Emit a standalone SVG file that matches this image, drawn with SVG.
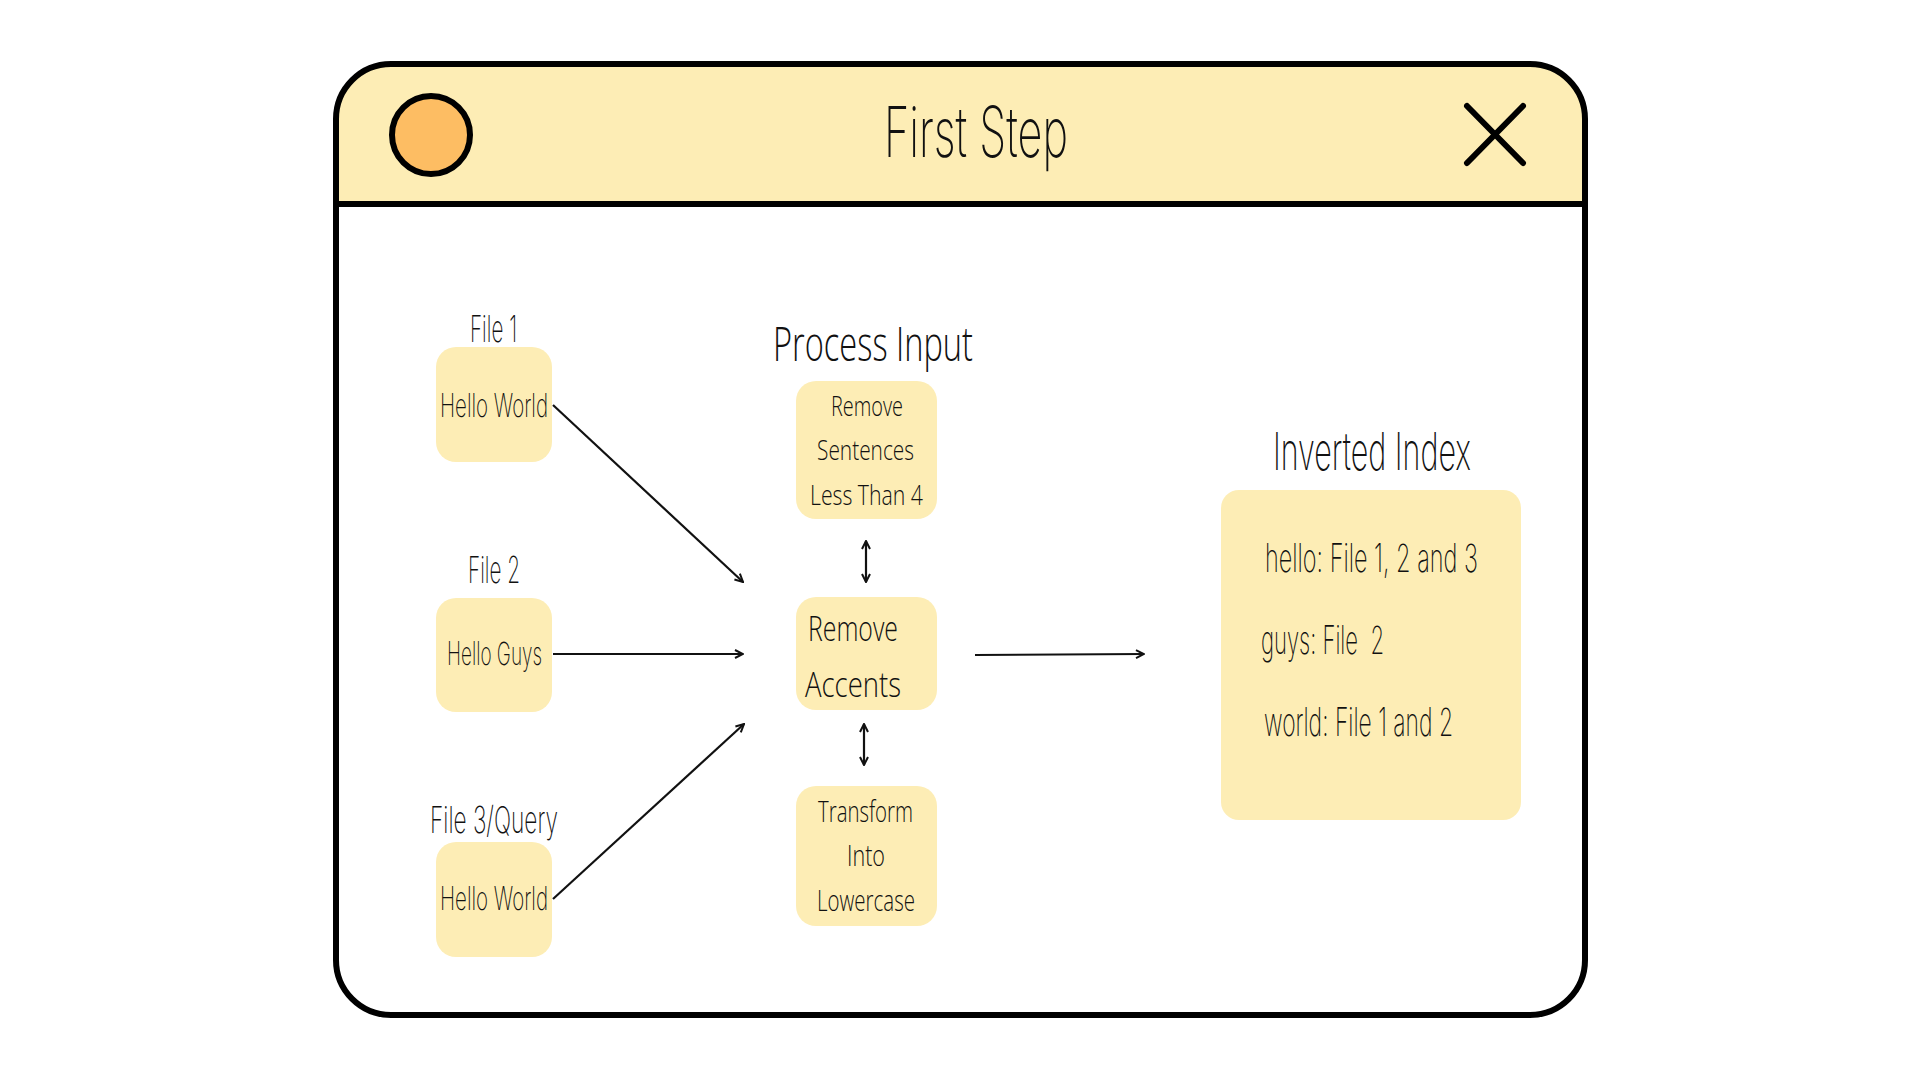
<svg xmlns="http://www.w3.org/2000/svg" width="1920" height="1080" viewBox="0 0 1920 1080">
<defs>
<style>
.t{font-family:Inter,"Liberation Sans",sans-serif;font-weight:250;fill:#111;}
.r{font-family:"Open Sans",Inter,"Liberation Sans",sans-serif;font-weight:300;fill:#111;}
.box{fill:#FDEDB5;}
.ln{stroke:#111;stroke-width:2.2;fill:none;}
</style>
<marker id="ah" viewBox="0 0 10 10" refX="9" refY="5" markerWidth="10" markerHeight="10" markerUnits="userSpaceOnUse" orient="auto-start-reverse">
<path d="M1,1 L9,5 L1,9" fill="none" stroke="#111" stroke-width="2"/>
</marker>
</defs>
<rect x="0" y="0" width="1920" height="1080" fill="#fff"/>
<g id="window">
<rect x="336" y="64" width="1249" height="951" rx="55" fill="#fff"/>
<path d="M336,204 L336,119 A55,55 0 0 1 391,64 L1530,64 A55,55 0 0 1 1585,119 L1585,204 Z" fill="#FDEDB5"/>
<line x1="336" y1="204" x2="1585" y2="204" stroke="#000" stroke-width="6"/>
<rect x="336" y="64" width="1249" height="951" rx="55" fill="none" stroke="#000" stroke-width="6"/>
<circle cx="431" cy="135" r="39" fill="#FDBD63" stroke="#000" stroke-width="6"/>
<text class="t" x="884" y="157" font-size="70" textLength="184" lengthAdjust="spacingAndGlyphs">First Step</text>
<path d="M1467,106 L1523,163 M1523,106 L1467,163" stroke="#000" stroke-width="6" stroke-linecap="round"/>
</g>
<g id="file1">
<text class="t" x="470" y="342" font-size="37" textLength="47" lengthAdjust="spacingAndGlyphs">File 1</text>
<rect class="box" x="436" y="347" width="116" height="115" rx="20"/>
<text class="t" x="440" y="417" font-size="32" textLength="108" lengthAdjust="spacingAndGlyphs">Hello World</text>
</g>
<g id="file2">
<text class="t" x="468" y="583" font-size="37" textLength="52" lengthAdjust="spacingAndGlyphs">File 2</text>
<rect class="box" x="436" y="598" width="116" height="114" rx="20"/>
<text class="t" x="447" y="665" font-size="32" textLength="95" lengthAdjust="spacingAndGlyphs">Hello Guys</text>
</g>
<g id="file3">
<text class="t" x="430" y="833" font-size="37" textLength="128" lengthAdjust="spacingAndGlyphs">File 3/Query</text>
<rect class="box" x="436" y="842" width="116" height="115" rx="20"/>
<text class="t" x="440" y="910" font-size="32" textLength="108" lengthAdjust="spacingAndGlyphs">Hello World</text>
</g>
<g id="process-title">
<text class="r" x="773" y="361" font-size="48" textLength="200" lengthAdjust="spacingAndGlyphs">Process Input</text>
</g>
<g id="remove-sentences">
<rect class="box" x="796" y="381" width="141" height="138" rx="20"/>
<text class="r" x="831" y="416" font-size="27" textLength="72" lengthAdjust="spacingAndGlyphs">Remove</text>
<text class="r" x="817" y="460" font-size="27" textLength="97" lengthAdjust="spacingAndGlyphs">Sentences</text>
<text class="r" x="810" y="505" font-size="27" textLength="113" lengthAdjust="spacingAndGlyphs">Less Than 4</text>
</g>
<g id="remove-accents">
<rect class="box" x="796" y="597" width="141" height="113" rx="20"/>
<text class="r" x="808" y="641" font-size="35" textLength="90" lengthAdjust="spacingAndGlyphs">Remove</text>
<text class="r" x="805" y="697" font-size="35" textLength="96" lengthAdjust="spacingAndGlyphs">Accents</text>
</g>
<g id="lowercase">
<rect class="box" x="796" y="786" width="141" height="140" rx="20"/>
<text class="r" x="818" y="822" font-size="29" textLength="95" lengthAdjust="spacingAndGlyphs">Transform</text>
<text class="r" x="847" y="866" font-size="29" textLength="38" lengthAdjust="spacingAndGlyphs">Into</text>
<text class="r" x="817" y="911" font-size="29" textLength="98" lengthAdjust="spacingAndGlyphs">Lowercase</text>
</g>
<g id="inverted-index">
<text class="t" x="1273" y="470" font-size="52" textLength="198" lengthAdjust="spacingAndGlyphs">Inverted Index</text>
<rect class="box" x="1221" y="490" width="300" height="330" rx="18"/>
<text class="t" x="1265" y="572" font-size="39" textLength="213" lengthAdjust="spacingAndGlyphs">hello: File 1, 2 and 3</text>
<text class="t" x="1261" y="654" font-size="39" textLength="123" lengthAdjust="spacingAndGlyphs" style="white-space:pre" xml:space="preserve">guys: File  2</text>
<text class="t" x="1264" y="736" font-size="39" textLength="189" lengthAdjust="spacingAndGlyphs">world: File 1 and 2</text>
</g>
<g id="connectors">
<line class="ln" x1="553" y1="405" x2="743" y2="582" marker-end="url(#ah)"/>
<line class="ln" x1="553" y1="654" x2="743" y2="654" marker-end="url(#ah)"/>
<line class="ln" x1="553" y1="899" x2="744" y2="724" marker-end="url(#ah)"/>
<line class="ln" x1="975" y1="655" x2="1144" y2="654" marker-end="url(#ah)"/>
<line class="ln" x1="866" y1="541" x2="866" y2="582" marker-start="url(#ah)" marker-end="url(#ah)"/>
<line class="ln" x1="864" y1="724" x2="864" y2="765" marker-start="url(#ah)" marker-end="url(#ah)"/>
</g>
</svg>
